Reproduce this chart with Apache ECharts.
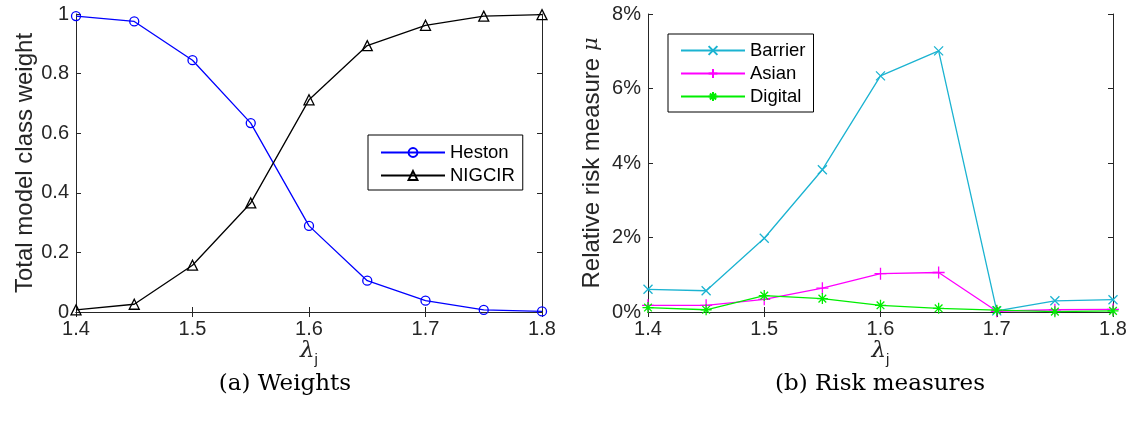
<!DOCTYPE html>
<html>
<head>
<meta charset="utf-8">
<script src="https://cdn.jsdelivr.net/npm/echarts@6/dist/echarts.min.js"></script>
<style>
  html, body { margin: 0; padding: 0; background: #fff; }
  #main { width: 1136px; height: 423px; }
</style>
</head>
<body>
<div id="main"></div>
<script>
// lambda_j values shared by both panels
const lambdas = [1.4, 1.45, 1.5, 1.55, 1.6, 1.65, 1.7, 1.75, 1.8];

// (a) weights
const heston = [0.993, 0.975, 0.845, 0.634, 0.289, 0.105, 0.038, 0.007, 0.002];
const nigcir = [0.007, 0.026, 0.157, 0.366, 0.712, 0.894, 0.962, 0.993, 0.998];

// (b) risk measures, in percent
const barrier = [0.61, 0.57, 1.98, 3.82, 6.34, 7.01, 0.03, 0.30, 0.33];
const asian = [0.18, 0.18, 0.34, 0.64, 1.03, 1.06, 0.02, 0.06, 0.07];
const digital = [0.12, 0.06, 0.44, 0.36, 0.18, 0.10, 0.05, 0.01, 0.03];

const xTicks = [1.4, 1.5, 1.6, 1.7, 1.8];
const weightTicks = [0, 0.2, 0.4, 0.6, 0.8, 1];
const riskTicks = [0, 2, 4, 6, 8];

const pairs = (ys) => lambdas.map((x, i) => [x, ys[i]]);

const FONT = 'Liberation Sans';
const TXT = '#262626';
const SERIF = 'DejaVu Serif';

const SYM_X = 'path://M0,0L10,10M10,0L0,10';
const SYM_PLUS = 'path://M5,0L5,10M0,5L10,5';
const SYM_STAR = 'path://M5,0L5,10M0,5L10,5M1.5,1.5L8.5,8.5M8.5,1.5L1.5,8.5';

const chart = echarts.init(document.getElementById('main'), null, {renderer: 'canvas'});

// one box of axes: bottom/left with labels, top/right mirrored with ticks only
function xAxisPair(gridIndex, nameText) {
  const base = {
    type: 'value', gridIndex: gridIndex,
    min: xTicks[0], max: xTicks[xTicks.length - 1], interval: 0.1,
    splitLine: {show: false},
    axisLine: {show: true, lineStyle: {color: TXT, width: 1}},
    axisTick: {show: true, inside: true, length: 5, lineStyle: {color: TXT}}
  };
  return [
    Object.assign({}, base, {
      position: 'bottom',
      axisLabel: {
        color: TXT, fontFamily: FONT, fontSize: 20, margin: 7,
        formatter: (v) => v.toFixed(1)
      },
      name: nameText, nameLocation: 'middle', nameGap: 24, nameMoveOverlap: false,
      nameTextStyle: {
        rich: {
          l: {fontFamily: SERIF, fontSize: 23, color: TXT, fontStyle: 'italic'},
          s: {fontFamily: FONT, fontSize: 15, color: TXT, padding: [16, 0, 0, 0]}
        }
      }
    }),
    Object.assign({}, base, {position: 'top', axisLabel: {show: false}})
  ];
}

function yAxisPair(gridIndex, ticks, fmt, nameText, gap) {
  const base = {
    type: 'value', gridIndex: gridIndex,
    min: ticks[0], max: ticks[ticks.length - 1], interval: ticks[1] - ticks[0],
    splitLine: {show: false},
    axisLine: {show: true, lineStyle: {color: TXT, width: 1}},
    axisTick: {show: true, inside: true, length: 5, lineStyle: {color: TXT}}
  };
  return [
    Object.assign({}, base, {
      position: 'left',
      axisLabel: {color: TXT, fontFamily: FONT, fontSize: 20, margin: 7, formatter: fmt},
      name: nameText, nameLocation: 'middle', nameGap: gap, nameRotate: 90,
      nameTextStyle: {
        color: TXT, fontFamily: FONT, fontSize: 24,
        rich: {
          t: {color: TXT, fontFamily: FONT, fontSize: 24},
          m: {color: TXT, fontFamily: SERIF, fontSize: 21, fontStyle: 'italic'}
        }
      }
    }),
    Object.assign({}, base, {position: 'right', axisLabel: {show: false}})
  ];
}

const xa = xAxisPair(0, '{l|λ}{s|j}').concat(xAxisPair(1, '{l|λ}{s|j}'));
const ya = yAxisPair(0, weightTicks, (v) => String(+v.toFixed(1)), 'Total model class weight', 39)
  .concat(yAxisPair(1, riskTicks, (v) => v + '%', '{t|Relative risk measure }{m|μ}', 44));

function lineSeries(name, data, color, symbol, size, xi, yi) {
  return {
    name: name, type: 'line', data: pairs(data),
    xAxisIndex: xi, yAxisIndex: yi,
    symbol: symbol, symbolSize: size, showAllSymbol: true,
    lineStyle: {color: color, width: 1.3},
    itemStyle: {color: 'rgba(255,255,255,0)', borderColor: color, borderWidth: 1.3},
    emphasis: {disabled: true},
    animation: false
  };
}

const legendBase = {
  orient: 'vertical',
  backgroundColor: '#fff',
  borderColor: '#000', borderWidth: 1, borderRadius: 0,
  itemWidth: 64, itemHeight: 11, itemGap: 4,
  textStyle: {color: '#000', fontFamily: FONT, fontSize: 18.5, padding: [0, 0, 0, 0]},
  selectedMode: false
};

chart.setOption({
  backgroundColor: '#fff',
  animation: false,
  grid: [
    {left: 76, top: 14, width: 466, height: 298},
    {left: 648, top: 14, width: 465, height: 298}
  ],
  xAxis: xa,
  yAxis: ya,
  legend: [
    Object.assign({}, legendBase, {
      left: 368, top: 135, padding: [8, 8, 5, 12],
      data: ['Heston', 'NIGCIR']
    }),
    Object.assign({}, legendBase, {
      left: 668, top: 34, padding: [7, 8, 6, 12],
      data: ['Barrier', 'Asian', 'Digital']
    })
  ],
  series: [
    lineSeries('Heston', heston, '#0000ff', 'circle', 9, 0, 0),
    lineSeries('NIGCIR', nigcir, '#000000', 'triangle', 10, 0, 0),
    lineSeries('Barrier', barrier, '#1bb3d1', SYM_X, 9, 2, 2),
    lineSeries('Asian', asian, '#ff00ff', SYM_PLUS, 12, 2, 2),
    lineSeries('Digital', digital, '#00ee00', SYM_STAR, 11, 2, 2)
  ],
  graphic: [
    {type: 'text', x: 285, y: 384,
      style: {text: '(a) Weights', fontFamily: SERIF, fontSize: 23, fill: '#000',
        align: 'center', verticalAlign: 'middle'}},
    {type: 'text', x: 880, y: 384,
      style: {text: '(b) Risk measures', fontFamily: SERIF, fontSize: 23, fill: '#000',
        align: 'center', verticalAlign: 'middle'}}
  ]
});
</script>
</body>
</html>
